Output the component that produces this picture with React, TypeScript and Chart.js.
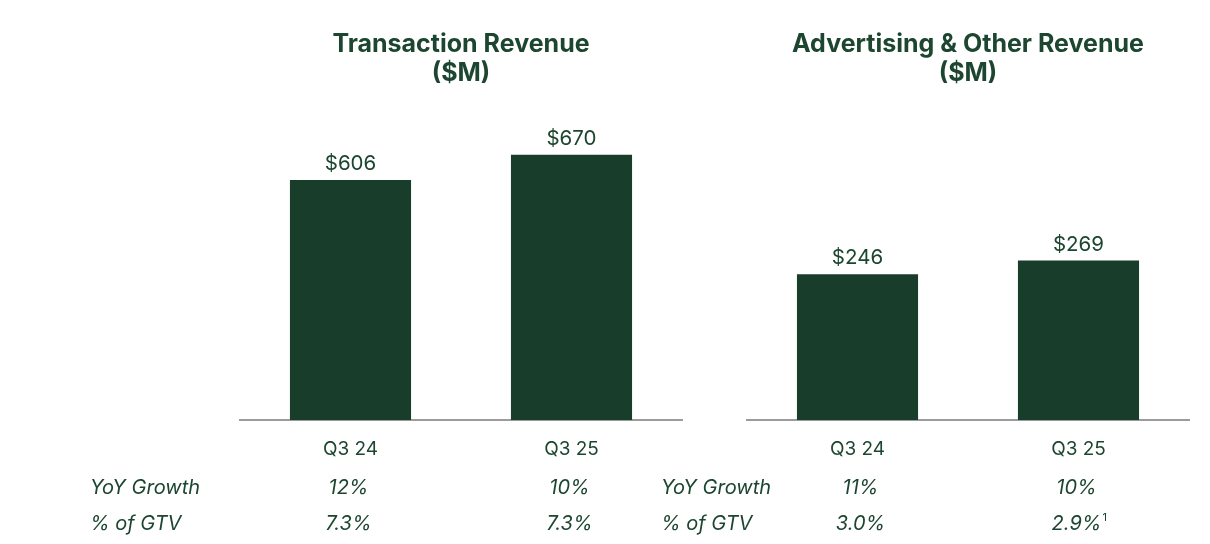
import React, { useEffect, useRef } from "react";
import { Chart, registerables } from "chart.js";

Chart.register(...registerables);

const categories = ["Q3 24", "Q3 25"];
const transactionRevenue = [606, 670];
const advertisingRevenue = [246, 269];
const transactionYoY = ["12%", "10%"];
const transactionGTV = ["7.3%", "7.3%"];
const advertisingYoY = ["11%", "10%"];
const advertisingGTV = ["3.0%", "2.9%"];
const advertisingGTVNotes = ["", "1"];
const rowLabels = ["YoY Growth", "% of GTV"];

const BAR = "#183d2a";
const TEXT = "#1c4630";
const FONT = "Inter, 'DejaVu Sans', sans-serif";

type Panel = {
  title: string[];
  values: number[];
  yoy: string[];
  gtv: string[];
  notes: string[];
  yMax: number;
  left: number;
  width: number;
  padLeft: number;
  padRight: number;
  rowLabelX: number;
  valueShift: number[];
};

function makeChart(canvas: HTMLCanvasElement, p: Panel) {
  const labelPlugin = {
    id: "valueLabels",
    afterDatasetsDraw(chart: any) {
      const ctx = chart.ctx;
      const meta = chart.getDatasetMeta(0);
      ctx.save();
      ctx.fillStyle = TEXT;
      ctx.font = `400 20.5px ${FONT}`;
      ctx.textAlign = "center";
      ctx.textBaseline = "alphabetic";
      meta.data.forEach((bar: any, i: number) => {
        ctx.fillText(`$${p.values[i]}`, bar.x, bar.y - 10);
      });
      ctx.restore();
    },
  };
  const tablePlugin = {
    id: "table",
    afterDraw(chart: any) {
      const ctx = chart.ctx;
      const xs = chart.scales.x;
      const rows = [p.yoy, p.gtv];
      const rowY = [488, 524];
      ctx.save();
      ctx.fillStyle = TEXT;
      ctx.textBaseline = "middle";
      rows.forEach((row, r) => {
        ctx.textAlign = "left";
        ctx.font = `italic 400 20px ${FONT}`;
        ctx.fillText(rowLabels[r], p.rowLabelX - p.left, rowY[r]);
        row.forEach((txt, i) => {
          const cx = xs.getPixelForValue(i) + p.valueShift[i];
          ctx.textAlign = "center";
          ctx.font = `italic 400 20px ${FONT}`;
          ctx.fillText(txt, cx, rowY[r]);
          if (r === 1 && p.notes[i]) {
            const w = ctx.measureText(txt).width;
            ctx.textAlign = "left";
            ctx.font = `400 11px ${FONT}`;
            ctx.fillText(p.notes[i], cx + w / 2 + 1, rowY[r] - 6);
          }
        });
      });
      ctx.restore();
    },
  };

  return new Chart(canvas, {
    type: "bar",
    data: {
      labels: categories,
      datasets: [
        {
          data: p.values,
          backgroundColor: BAR,
          barPercentage: 0.548,
          categoryPercentage: 1,
        },
      ],
    },
    options: {
      responsive: false,
      animation: false,
      devicePixelRatio: 1,
      layout: { padding: { left: p.padLeft, right: p.padRight, top: 20, bottom: 0 } },
      plugins: {
        legend: { display: false },
        tooltip: { enabled: false },
        title: {
          display: true,
          text: p.title,
          color: TEXT,
          font: { family: FONT, size: 25, weight: "bold", lineHeight: 1.16 },
          padding: { top: 9.5, bottom: 12.5 },
        },
      },
      scales: {
        x: {
          grid: { display: false },
          border: { display: true, color: "#9c9c9c", width: 2 },
          ticks: {
            color: TEXT,
            font: { family: FONT, size: 19 },
            padding: 10,
          },
          afterFit: (scale: any) => {
            scale.height = 124;
          },
        },
        y: { display: false, min: 0, max: p.yMax },
      },
    },
    plugins: [labelPlugin, tablePlugin],
  } as any);
}

const panels: Panel[] = [
  {
    title: ["Transaction Revenue", "($M)"],
    values: transactionRevenue,
    yoy: transactionYoY,
    gtv: transactionGTV,
    notes: ["", ""],
    yMax: 808,
    left: 0,
    width: 700,
    padLeft: 240,
    padRight: 18,
    rowLabelX: 90,
    valueShift: [-2, -2],
  },
  {
    title: ["Advertising & Other Revenue", "($M)"],
    values: advertisingRevenue,
    yoy: advertisingYoY,
    gtv: advertisingGTV,
    notes: advertisingGTVNotes,
    yMax: 540,
    left: 640,
    width: 570,
    padLeft: 107,
    padRight: 21,
    rowLabelX: 661,
    valueShift: [3, -2],
  },
];

function PanelChart({ p }: { p: Panel }) {
  const ref = useRef<HTMLCanvasElement | null>(null);
  useEffect(() => {
    if (!ref.current) return;
    const c = makeChart(ref.current, p);
    return () => c.destroy();
  }, [p]);
  return (
    <canvas
      ref={ref}
      width={p.width}
      height={544}
      style={{ position: "absolute", left: p.left, top: 0, width: p.width, height: 544 }}
    />
  );
}

export default function App() {
  return (
    <div style={{ position: "absolute", left: 0, top: 0, width: 1210, height: 544, background: "#fff" }}>
      {panels.map((p, i) => (
        <PanelChart key={i} p={p} />
      ))}
    </div>
  );
}
